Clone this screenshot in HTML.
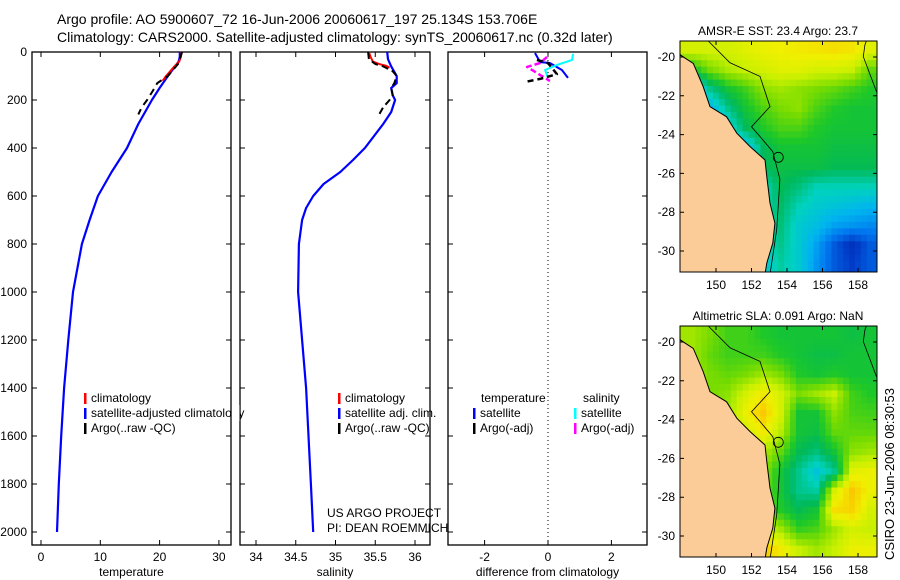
<!DOCTYPE html>
<html><head><meta charset="utf-8">
<style>
html,body{margin:0;padding:0;background:#fff;width:900px;height:580px;overflow:hidden}
svg{display:block;font-family:"Liberation Sans",sans-serif}
</style></head>
<body>
<svg id="fig" width="900" height="580" viewBox="0 0 900 580" xmlns="http://www.w3.org/2000/svg">
<text x="57" y="24" font-size="14">Argo profile: AO 5900607_72 16-Jun-2006 20060617_197 25.134S 153.706E</text>
<text x="57" y="42" font-size="14">Climatology: CARS2000. Satellite-adjusted climatology: synTS_20060617.nc (0.32d later)</text>
<text x="0" y="0" font-size="13" transform="translate(894,560) rotate(-90)">CSIRO 23-Jun-2006 08:30:53</text>
</svg>
<script>
// ---------- data ----------
const depthTicks=[0,200,400,600,800,1000,1200,1400,1600,1800,2000];
const tempTicks=[0,10,20,30];
const salTicks=[34,34.5,35,35.5,36];
const diffTicks=[-2,0,2];
const tSatDepth=[0,20,40,60,80,100,150,200,300,400,500,600,700,800,1000,1200,1400,1600,1800,2000];
const tSatVal=[23.4,23.4,23.2,22.6,22,21.4,20.0,18.7,16.4,14.5,11.9,9.6,8.2,6.9,5.4,4.6,3.9,3.4,3.0,2.7];
const tClimDepth=[0,20,40,60,80,100,120];
const tClimVal=[23.7,23.6,23.3,22.5,21.8,21.1,20.5];
const tArgoDepth=[0,50,100,130,160,200,230,260];
const tArgoVal=[23.8,23.1,21.4,19.6,18.9,17.9,17.0,16.4];
const sSatDepth=[0,30,60,100,130,150,180,200,250,300,400,450,500,550,600,650,700,800,1000,1200,1400,1600,1800,2000];
const sSatVal=[35.65,35.66,35.7,35.77,35.77,35.7,35.72,35.75,35.7,35.6,35.37,35.22,35.06,34.85,34.72,34.63,34.58,34.54,34.53,34.58,34.63,34.66,34.69,34.72];
const sClimDepth=[0,20,40,50,58,65];
const sClimVal=[35.42,35.44,35.47,35.55,35.64,35.68];
const sArgoDepth=[0,30,50,60,80,100,130,150,180,200,230,260];
const sArgoVal=[35.41,35.42,35.5,35.6,35.72,35.77,35.74,35.7,35.72,35.68,35.6,35.55];
const dTSatDepth=[4,42,46,75,108];
const dTSatVal=[-0.41,-0.25,0.06,0.44,0.63];
const dSSatDepth=[8,33,54,75,108];
const dSSatVal=[0.79,0.76,0.28,-0.09,0.0];
const dSArgoDepth=[21,46,62,121];
const dSArgoVal=[-0.03,-0.25,-0.66,0.06];
const dTArgoDepth=[33,46,92,112,125];
const dTArgoVal=[-0.35,0,0.28,-0.25,-0.73];
const sstGrid=[
[.8,.8,.8,.82,.84,.85,.86,.87,.88,.87,.82],
[.6,.7,.75,.78,.8,.82,.82,.8,.8,.78,.68],
[.3,.5,.6,.65,.72,.74,.72,.7,.68,.65,.62],
[.3,.35,.5,.6,.66,.7,.72,.66,.62,.6,.6],
[.3,.3,.4,.55,.62,.66,.66,.62,.6,.6,.6],
[.2,.2,.3,.35,.55,.6,.6,.6,.58,.58,.58],
[.2,.2,.2,.38,.55,.58,.58,.58,.56,.56,.56],
[.2,.2,.2,.4,.45,.56,.52,.46,.46,.46,.46],
[.2,.2,.2,.4,.45,.54,.46,.42,.4,.38,.36],
[.2,.2,.2,.4,.45,.52,.42,.38,.32,.3,.28],
[.2,.2,.2,.4,.45,.5,.42,.32,.2,.12,.2],
[.2,.2,.2,.35,.4,.48,.42,.3,.2,.15,.2]];
const slaGrid=[
[.74,.7,.65,.65,.62,.6,.6,.6,.6,.58,.6],
[.74,.68,.65,.65,.65,.62,.6,.58,.58,.6,.6],
[.74,.7,.68,.7,.74,.7,.62,.6,.62,.6,.6],
[.72,.7,.72,.8,.86,.8,.7,.74,.78,.65,.62],
[.72,.7,.74,.84,.92,.8,.6,.6,.72,.66,.65],
[.72,.72,.75,.8,.86,.76,.6,.58,.68,.68,.68],
[.72,.72,.75,.76,.76,.68,.56,.52,.6,.72,.74],
[.72,.72,.75,.74,.72,.6,.5,.4,.5,.82,.84],
[.72,.72,.75,.74,.7,.6,.5,.48,.8,.92,.84],
[.72,.72,.75,.74,.7,.62,.56,.6,.88,.9,.8],
[.72,.72,.75,.74,.8,.74,.64,.66,.74,.8,.78],
[.72,.72,.75,.84,.92,.86,.78,.74,.78,.84,.84]];
const coastLon=[147.9,148.0,148.72,149.28,149.66,150.6,151.17,151.92,152.76,152.86,153.04,153.32,153.2,152.86,152.76];
const coastLat=[-19.7,-19.9,-20.33,-21.53,-22.56,-23.08,-23.93,-24.62,-25.31,-26.17,-27.53,-28.56,-29.59,-30.62,-31.2];
const shelfLon=[149.48,150.79,152.48,153.04,152.0,152.48,153.2,153.6,153.42,153.04];
const shelfLat=[-19.1,-20.3,-21.0,-22.56,-23.6,-24.1,-24.88,-26.3,-28.9,-31.2];
const eastLon=[158.5,158.39,158.3,159.05,159.2];
const eastLat=[-19.1,-19.38,-19.98,-21.8,-22.0];
const latTicks=[-20,-22,-24,-26,-28,-30];
const lonTicks=[150,152,154,156,158];
const cmapStops=[[0,0,20,140],[.15,0,60,200],[.25,0,120,240],[.35,0,180,240],[.45,0,210,190],[.55,0,185,90],[.62,30,200,40],[.7,120,220,0],[.78,200,240,0],[.85,240,240,0],[.92,250,200,0],[1,240,150,0]];

// ---------- helpers ----------
const svg=document.getElementById('fig');
const NS='http://www.w3.org/2000/svg';
function mk(tag,a,parent){const e=document.createElementNS(NS,tag);for(const k in a)e.setAttribute(k,a[k]);(parent||svg).appendChild(e);return e;}
const Y0=52,Y1=545;
function yDepth(d){return 52+d*0.24;}
function panelFrame(name,x0,x1,xs,ticks,labelFmt,title,showYLabels){
  const r=mk('rect',{x:x0,y:Y0,width:x1-x0,height:Y1-Y0,fill:'none',stroke:'#000','stroke-width':1.3});
  
  
  for(const t of ticks){
    const x=xs(t);
    const l=mk('path',{d:`M${x} ${Y1}v-5M${x} ${Y0}v5`,stroke:'#000','stroke-width':1});
    
    
    const tx=mk('text',{x:x,y:561,'font-size':12,'text-anchor':'middle'});
    tx.textContent=labelFmt(t);
    
    
  }
  for(const d of depthTicks){
    const y=yDepth(d);
    const l=mk('path',{d:`M${x0} ${y}h5M${x1} ${y}h-5`,stroke:'#000','stroke-width':1});
    
    
    if(showYLabels){
      const tx=mk('text',{x:27,y:y+4,'font-size':12,'text-anchor':'end'});
      tx.textContent=d;
      
      
    }
  }
  const tt=mk('text',{x:(x0+x1)/2,y:576,'font-size':12,'text-anchor':'middle'});
  tt.textContent=title;
  
  
}
function line(name,xs,vals,depths,color,w,dash){
  const p=vals.map((v,i)=>(i?'L':'M')+xs(v).toFixed(1)+' '+yDepth(depths[i]).toFixed(1)).join('');
  const a={d:p,fill:'none',stroke:color,'stroke-width':w,'stroke-linejoin':'round'};
  if(dash)a['stroke-dasharray']=dash;
  const e=mk('path',a);
  
  
}
function legend(name,x,y,color,label){
  const b=mk('rect',{x:x,y:y-9,width:2.5,height:11,fill:color});
  
  
  const t=mk('text',{x:x+7,y:y,'font-size':12});
  t.textContent=label;
  
  
}
function txt(name,x,y,s,anchor){
  const t=mk('text',{x:x,y:y,'font-size':12,'text-anchor':anchor||'start'});
  t.textContent=s;
  
  
}

// ---------- temperature panel ----------
const xT=v=>41+v*5.93;
panelFrame('temperature-panel',32,231,xT,tempTicks,v=>v,'temperature',true);
line('temperature-satellite-line',xT,tSatVal,tSatDepth,'#0000ff',2.2);
line('temperature-climatology-line',xT,tClimVal,tClimDepth,'#ff0000',2);
line('temperature-argo-line',xT,tArgoVal,tArgoDepth,'#000',2,'7 5');
legend('temp-legend-climatology',84,402,'#ff0000','climatology');
legend('temp-legend-satellite',84,417,'#0000ff','satellite-adjusted climatology');
legend('temp-legend-argo',84,432,'#000','Argo(..raw -QC)');

// ---------- salinity panel ----------
const xS=v=>256+(v-34)*79.5;
panelFrame('salinity-panel',240,430,xS,salTicks,v=>v,'salinity',false);
line('salinity-satellite-line',xS,sSatVal,sSatDepth,'#0000ff',2.2);
line('salinity-climatology-line',xS,sClimVal,sClimDepth,'#ff0000',2);
line('salinity-argo-line',xS,sArgoVal,sArgoDepth,'#000',2,'7 4');
legend('sal-legend-climatology',338,402,'#ff0000','climatology');
legend('sal-legend-satellite',338,417,'#0000ff','satellite adj. clim.');
legend('sal-legend-argo',338,432,'#000','Argo(..raw -QC)');
txt('project-label',327,517,'US ARGO PROJECT');
txt('pi-label',327,532,'PI: DEAN ROEMMICH');
const cover=mk('rect',{x:232,y:405,width:7.5,height:16,fill:'#fff'});



// ---------- difference panel ----------
const xD=v=>548+v*31.7;
panelFrame('difference-panel',448,647,xD,diffTicks,v=>v===0?'0':(v<0?'-'+(-v):v),'difference from climatology',false);
const zl=mk('line',{x1:548,y1:Y0,x2:548,y2:Y1,stroke:'#000','stroke-width':1,'stroke-dasharray':'1 3'});


line('diff-temp-satellite-line',xD,dTSatVal,dTSatDepth,'#0000ff',2);
line('diff-sal-satellite-line',xD,dSSatVal,dSSatDepth,'#00ffff',2);
line('diff-sal-argo-line',xD,dSArgoVal,dSArgoDepth,'#ff00ff',2.5,'6 3');
line('diff-temp-argo-line',xD,dTArgoVal,dTArgoDepth,'#000',2.5,'6 4');
txt('diff-legend-temperature-heading',481,402,'temperature');
txt('diff-legend-salinity-heading',583,402,'salinity');
legend('diff-legend-temp-satellite',473,417,'#0000ff','satellite');
legend('diff-legend-temp-argo',473,432,'#000','Argo(-adj)');
legend('diff-legend-sal-satellite',574,417,'#00ffff','satellite');
legend('diff-legend-sal-argo',574,432,'#ff00ff','Argo(-adj)');

// ---------- maps ----------
function cmap(v){
  v=Math.min(1,Math.max(0,v));
  for(let i=1;i<cmapStops.length;i++){
    const a=cmapStops[i-1],b=cmapStops[i];
    if(v<=b[0]){
      const t=(v-a[0])/(b[0]-a[0]);
      return `rgb(${Math.round(a[1]+(b[1]-a[1])*t)},${Math.round(a[2]+(b[2]-a[2])*t)},${Math.round(a[3]+(b[3]-a[3])*t)})`;
    }
  }
  return 'rgb(240,150,0)';
}
function drawMap(name,top,grid,title){
  const X0=680,X1=877,bot=top+231;
  const lx=lon=>716+(lon-150)*17.75;
  const ly=lat=>top+16+(-20-lat)*19.4;
  const g=mk('g',{});
  
  
  const cp=mk('clipPath',{id:name+'-clip'},g);
  mk('rect',{x:X0,y:top,width:X1-X0,height:bot-top},cp);
  const inner=mk('g',{'clip-path':`url(#${name}-clip)`},g);
  const sub=3;
  for(let r=-1;r<grid.length;r++){
    for(let c=-1;c<grid[0].length;c++){
      for(let i=0;i<sub;i++)for(let j=0;j<sub;j++){
        const fr=Math.min(grid.length-1,Math.max(0,r+i/sub)),fc=Math.min(grid[0].length-1,Math.max(0,c+j/sub));
        const r0=Math.floor(fr),c0=Math.floor(fc),r1=Math.min(grid.length-1,r0+1),c1=Math.min(grid[0].length-1,c0+1);
        const ar=fr-r0,ac=fc-c0;
        const v=(grid[r0][c0]*(1-ac)+grid[r0][c1]*ac)*(1-ar)+(grid[r1][c0]*(1-ac)+grid[r1][c1]*ac)*ar;
        const lat=-19.5-(r+i/sub),lon=148.5+(c+j/sub);
        const x=lx(lon),y=ly(lat),w=17.75/sub+0.5,h=19.4/sub+0.5;
        const cell=mk('rect',{x:x.toFixed(1),y:y.toFixed(1),width:w.toFixed(1),height:h.toFixed(1),fill:cmap(v)},inner);
        
        
      }
    }
  }
  const pts=coastLon.map((lo,i)=>lx(lo).toFixed(1)+','+ly(coastLat[i]).toFixed(1));
  const land=mk('polygon',{points:pts.join(' ')+` ${X0-5},${bot+5} ${X0-5},${ly(-19.7)}`,fill:'#fccc98',stroke:'#000','stroke-width':1},inner);
  
  
  const sh=mk('polyline',{points:shelfLon.map((lo,i)=>lx(lo).toFixed(1)+','+ly(shelfLat[i]).toFixed(1)).join(' '),fill:'none',stroke:'#000','stroke-width':0.8},inner);
  
  
  const ea=mk('polyline',{points:eastLon.map((lo,i)=>lx(lo).toFixed(1)+','+ly(eastLat[i]).toFixed(1)).join(' '),fill:'none',stroke:'#000','stroke-width':0.8},inner);
  
  
  const ci=mk('circle',{cx:lx(153.51),cy:ly(-25.17),r:5,fill:'none',stroke:'#000','stroke-width':0.8},inner);
  
  
  const fr=mk('rect',{x:X0,y:top,width:X1-X0,height:bot-top,fill:'none',stroke:'#000','stroke-width':1},g);
  
  
  for(const la of latTicks){
    const y=ly(la);
    const t=mk('path',{d:`M${X0} ${y}h4M${X1} ${y}h-4`,stroke:'#000'},g);
    
    
    const l=mk('text',{x:675,y:y+4,'font-size':12,'text-anchor':'end'},g);
    l.textContent=la;
    
    
  }
  for(const lo of lonTicks){
    const x=lx(lo);
    const t=mk('path',{d:`M${x} ${bot}v-4M${x} ${top}v4`,stroke:'#000'},g);
    
    
    const l=mk('text',{x:x,y:bot+17,'font-size':12,'text-anchor':'middle'},g);
    l.textContent=lo;
    
    
  }
  const tt=mk('text',{x:778,y:top-6,'font-size':12,'text-anchor':'middle'},g);
  tt.textContent=title;
  
  
}
drawMap('sst-map',41,sstGrid,'AMSR-E SST: 23.4 Argo: 23.7');
drawMap('sla-map',326,slaGrid,'Altimetric SLA: 0.091 Argo: NaN');
</script>
</body></html>
